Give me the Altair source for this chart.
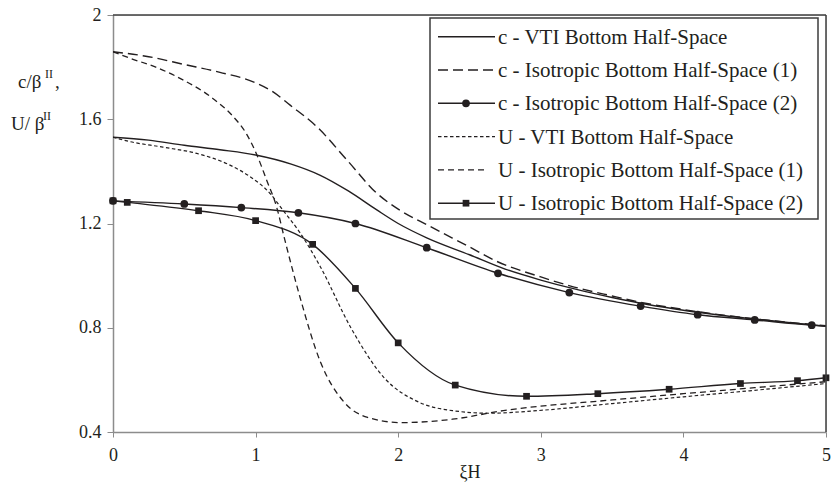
import altair as alt
import pandas as pd

# ---------------- data ----------------
cvti_x = [0, 0.25, 0.5, 0.75, 1.0, 1.25, 1.45, 1.65, 1.85, 2.0, 2.2, 2.5, 2.75, 3.0, 3.25, 3.5, 3.75, 4.0, 4.25, 4.5, 4.75, 5.0]
cvti_y = [1.531, 1.52, 1.50, 1.483, 1.463, 1.428, 1.386, 1.325, 1.252, 1.20, 1.145, 1.08, 1.025, 0.983, 0.947, 0.916, 0.889, 0.867, 0.849, 0.834, 0.819, 0.806]

ciso1_x = [0, 0.25, 0.5, 0.75, 1.0, 1.12, 1.24, 1.43, 1.64, 1.85, 2.0, 2.22, 2.5, 2.69, 3.0, 3.21, 3.5, 3.69, 4.0, 4.5, 5.0]
ciso1_y = [1.859, 1.84, 1.81, 1.78, 1.74, 1.706, 1.655, 1.571, 1.444, 1.316, 1.255, 1.19, 1.11, 1.055, 0.995, 0.96, 0.922, 0.899, 0.87, 0.834, 0.808]

ciso2_x = [0, 0.5, 0.9, 1.3, 1.7, 2.2, 2.7, 3.2, 3.7, 4.1, 4.5, 4.9, 5.0]
ciso2_y = [1.287, 1.275, 1.261, 1.241, 1.20, 1.107, 1.009, 0.935, 0.883, 0.850, 0.830, 0.810, 0.806]
ciso2_mark_x = [0, 0.5, 0.9, 1.3, 1.7, 2.2, 2.7, 3.2, 3.7, 4.1, 4.5, 4.9]
ciso2_mark_y = [1.287, 1.275, 1.261, 1.241, 1.20, 1.107, 1.009, 0.935, 0.883, 0.850, 0.830, 0.810]

uvti_x = [0, 0.12, 0.35, 0.587, 0.82, 0.96, 1.1, 1.19, 1.311, 1.453, 1.667, 1.905, 2.143, 2.38, 2.642, 2.975, 3.5, 4.0, 4.5, 5.0]
uvti_y = [1.531, 1.514, 1.493, 1.469, 1.424, 1.38, 1.316, 1.252, 1.165, 1.035, 0.801, 0.606, 0.515, 0.482, 0.472, 0.482, 0.509, 0.535, 0.56, 0.586]

uiso1_x = [0, 0.12, 0.3, 0.47, 0.70, 0.84, 0.937, 1.007, 1.077, 1.147, 1.205, 1.311, 1.453, 1.62, 1.786, 2.024, 2.38, 2.737, 3.5, 4.0, 4.5, 5.0]
uiso1_y = [1.859, 1.834, 1.80, 1.757, 1.68, 1.612, 1.543, 1.466, 1.367, 1.264, 1.137, 0.918, 0.671, 0.515, 0.456, 0.436, 0.449, 0.482, 0.523, 0.547, 0.57, 0.593]

uiso2_x = [0, 0.1, 0.6, 1.0, 1.4, 1.7, 2.0, 2.4, 2.9, 3.4, 3.9, 4.4, 4.8, 5.0]
uiso2_y = [1.287, 1.281, 1.249, 1.211, 1.12, 0.951, 0.742, 0.580, 0.537, 0.547, 0.564, 0.586, 0.597, 0.608]

legend_labels = [
    "c - VTI Bottom Half-Space",
    "c - Isotropic Bottom Half-Space (1)",
    "c - Isotropic Bottom Half-Space (2)",
    "U - VTI Bottom Half-Space",
    "U -  Isotropic Bottom Half-Space (1)",
    "U - Isotropic Bottom Half-Space (2)",
]

x_ticks = [0, 1, 2, 3, 4, 5]
y_ticks = [0.4, 0.8, 1.2, 1.6, 2.0]

# ---------------- styling ----------------
FONT = "Liberation Serif, Times New Roman, serif"
INK = "#231f20"
W, H = 713, 417

xs = alt.Scale(domain=[0, 5], nice=False)
ys = alt.Scale(domain=[0.4, 2.0], nice=False)

x_axis = alt.Axis(values=x_ticks, format="~g", title="ξH", labelFont=FONT, labelFontSize=18,
                  labelColor=INK, titleFont=FONT, titleFontSize=18, titleFontWeight="normal",
                  titleColor=INK, titlePadding=-1, labelPadding=9, tickSize=5, tickColor="#8c8c8c",
                  domainColor="#8c8c8c", domainWidth=1.5, grid=False, labelFlush=False)
y_axis = alt.Axis(values=y_ticks, format="~g", title=None, labelFont=FONT, labelFontSize=18,
                  labelColor=INK, labelPadding=6, tickSize=6, tickColor="#8c8c8c",
                  domainColor="#8c8c8c", domainWidth=1.5, grid=False, labelFlush=False)


def df(xv, yv):
    return pd.DataFrame({"x": xv, "y": yv})


def enc_xy():
    return dict(x=alt.X("x:Q", scale=xs, axis=x_axis), y=alt.Y("y:Q", scale=ys, axis=y_axis))


def line(xv, yv, dash=None, width=1.4):
    kw = dict(color=INK, strokeWidth=width, interpolate="monotone", clip=True)
    if dash:
        kw["strokeDash"] = dash
    return alt.Chart(df(xv, yv)).mark_line(**kw).encode(**enc_xy())


def points(xv, yv, shape, size):
    return alt.Chart(df(xv, yv)).mark_point(shape=shape, filled=True, size=size, color=INK,
                                            opacity=1).encode(**enc_xy())


DASH = {
    "c_iso1": [10, 5],
    "u_vti": [3.5, 2.5],
    "u_iso1": [6, 4],
}

layers = [
    line(cvti_x, cvti_y),
    line(ciso1_x, ciso1_y, dash=DASH["c_iso1"]),
    line(ciso2_x, ciso2_y),
    line(uvti_x, uvti_y, dash=DASH["u_vti"], width=1.2),
    line(uiso1_x, uiso1_y, dash=DASH["u_iso1"], width=1.3),
    line(uiso2_x, uiso2_y),
    points(ciso2_mark_x, ciso2_mark_y, "circle", 60),
    points(uiso2_x, uiso2_y, "square", 45),
]

one = pd.DataFrame({"k": [0]})

# frame (top and right border)
layers.append(alt.Chart(one).mark_rule(color="#3c3c3c", strokeWidth=1.5).encode(
    x=alt.value(0), x2=alt.value(W), y=alt.value(0)))
layers.append(alt.Chart(one).mark_rule(color="#3c3c3c", strokeWidth=1.5).encode(
    x=alt.value(W), y=alt.value(0), y2=alt.value(H)))

# legend box
LX0, LX1, LY0, LY1 = 317, 705, 3, 204
layers.append(alt.Chart(one).mark_rect(fill="white", stroke="#3c3c3c", strokeWidth=1.5).encode(
    x=alt.value(LX0), x2=alt.value(LX1), y=alt.value(LY0), y2=alt.value(LY1)))

row_styles = [
    (None, 1.4, None),
    (DASH["c_iso1"], 1.4, None),
    (None, 1.4, "circle"),
    (DASH["u_vti"], 1.2, None),
    (DASH["u_iso1"], 1.3, None),
    (None, 1.4, "square"),
]
for i, (lab, (dash, wd, mk)) in enumerate(zip(legend_labels, row_styles)):
    yy = 21.7 + 33.3 * i
    kw = dict(color=INK, strokeWidth=wd)
    if dash:
        kw["strokeDash"] = dash
    x_end = 382 if i != 4 else 375
    layers.append(alt.Chart(one).mark_rule(**kw).encode(
        x=alt.value(325), x2=alt.value(x_end), y=alt.value(yy)))
    if mk:
        layers.append(alt.Chart(one).mark_point(shape=mk, filled=True, opacity=1, color=INK,
                                                size=60 if mk == "circle" else 45).encode(
            x=alt.value(353), y=alt.value(yy)))
    layers.append(alt.Chart(one).mark_text(align="left", baseline="middle", font=FONT, fontSize=21,
                                           color=INK, text=lab).encode(
        x=alt.value(385), y=alt.value(yy + 1)))


# y-axis title (two lines with superscripts)
def ytext(txt, x, y, size):
    return alt.Chart(one).mark_text(align="left", baseline="alphabetic", font=FONT, fontSize=size,
                                    color=INK, text=txt).encode(x=alt.value(x), y=alt.value(y))


layers += [
    ytext("c/β", -95, 73, 19),
    ytext("II", -68, 63, 12),
    ytext(",", -58, 73, 19),
    ytext("U/ β", -102, 115, 19),
    ytext("II", -70, 105, 12),
]

chart = alt.layer(*layers).properties(
    width=W, height=H,
    autosize=alt.AutoSizeParams(type="none"),
    padding={"left": 113, "top": 15, "right": 6, "bottom": 53},
).configure_view(stroke=None).configure(background="white")

chart.save("out.html", embed_options={"renderer": "svg", "actions": False})
